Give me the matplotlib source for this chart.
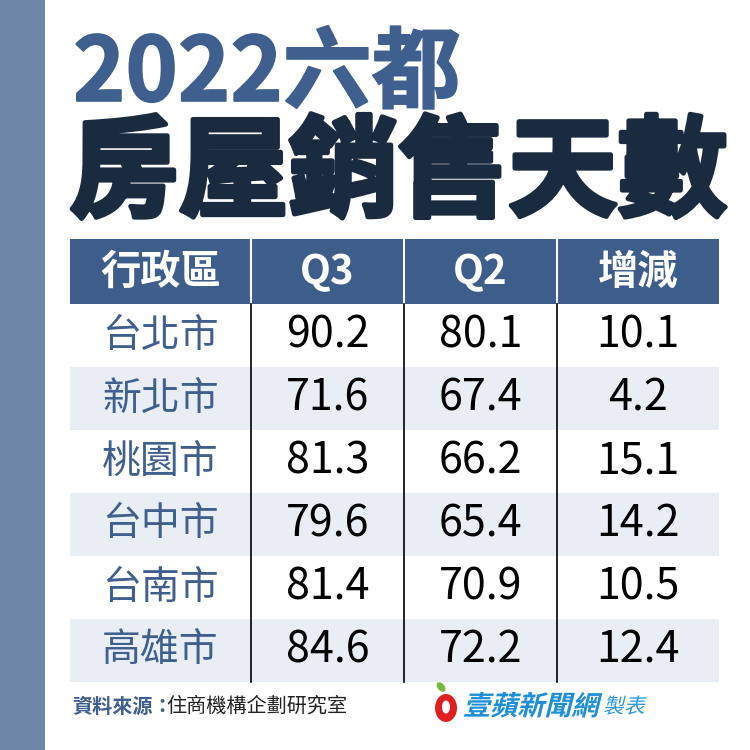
import matplotlib
matplotlib.use("Agg")
import matplotlib.pyplot as plt
from matplotlib.patches import Rectangle, Ellipse
from matplotlib.transforms import Affine2D
import matplotlib.patheffects as pe

plt.rcParams['font.family'] = ['Noto Sans CJK TC', 'DejaVu Sans']

title1 = "2022六都"
title2 = "房屋銷售天數"
headers = ["行政區", "Q3", "Q2", "增減"]
cities = ["台北市", "新北市", "桃園市", "台中市", "台南市", "高雄市"]
q3 = ["90.2", "71.6", "81.3", "79.6", "81.4", "84.6"]
q2 = ["80.1", "67.4", "66.2", "65.4", "70.9", "72.2"]
diff = ["10.1", "4.2", "15.1", "14.2", "10.5", "12.4"]
source_label = "資料來源："
source_text = "住商機構企劃研究室"
brand = "壹蘋新聞網"
brand_suffix = "製表"

BAR = "#6e86a8"
BLUE = "#3f5f8f"
HEAD = "#3d5d8b"
DARK = "#1a2a3f"
LIGHT = "#e9eef5"


class Shear(pe.AbstractPathEffect):
    """Slant text (faux italic) about its own origin."""
    def __init__(self, deg=14):
        super().__init__()
        self.deg = deg

    def draw_path(self, renderer, gc, tpath, affine, rgbFace=None):
        x0, y0 = affine.transform((0, 0))
        t = affine + Affine2D().translate(-x0, -y0).skew_deg(self.deg, 0).translate(x0, y0)
        renderer.draw_path(gc, tpath, t, rgbFace)


fig = plt.figure(figsize=(7.5, 7.5), dpi=100)
ax = fig.add_axes([0, 0, 1, 1])
ax.set_xlim(0, 750)
ax.set_ylim(750, 0)
ax.axis('off')

# left bar
ax.add_patch(Rectangle((0, 0), 45, 750, color=BAR, lw=0))

# titles
ax.text(73, 75, title1, fontsize=64, fontweight='bold', color=BLUE,
        ha='left', va='center',
        path_effects=[pe.withStroke(linewidth=1.2, foreground=BLUE)])
ax.text(69, 176, title2, fontsize=79, fontweight='black', color=DARK,
        ha='left', va='center',
        path_effects=[pe.withStroke(linewidth=3.5, foreground=DARK)])

cols = [70, 251, 404, 557, 719]
head_top, head_bot = 239, 304
row_h = 63

# header
ax.add_patch(Rectangle((cols[0], head_top), cols[-1] - cols[0], head_bot - head_top,
                       color=HEAD, lw=0))
for i, h in enumerate(headers):
    cx = (cols[i] + cols[i + 1]) / 2
    ax.text(cx, (head_top + head_bot) / 2 + 1, h, fontsize=29, fontweight='bold',
            color='white', ha='center', va='center')
for x in cols[1:-1]:
    ax.plot([x, x], [head_top, head_bot], color='white', lw=1.5)

# rows
for r in range(len(cities)):
    top = head_bot + r * row_h
    if r % 2 == 1:
        ax.add_patch(Rectangle((cols[0], top), cols[-1] - cols[0], row_h,
                               color=LIGHT, lw=0))
    cy = top + row_h / 2
    ax.text((cols[0] + cols[1]) / 2, cy, cities[r], fontsize=28, color=BLUE,
            fontweight='medium', ha='center', va='center')
    for j, vals in enumerate([q3, q2, diff]):
        ax.text((cols[j + 1] + cols[j + 2]) / 2, cy, vals[r], fontsize=31,
                color='black', fontweight='light', ha='center', va='center')

table_bot = head_bot + len(cities) * row_h
for x in cols[1:-1]:
    ax.plot([x, x], [head_bot, table_bot], color='black', lw=1.2)

# footer
ax.text(72, 706, source_label, fontsize=14.5, fontweight='bold', color=BLUE,
        ha='left', va='center')
ax.text(166, 706, source_text, fontsize=14.5, color='#222222',
        ha='left', va='center')

# logo
ax.add_patch(Ellipse((446, 708), 22, 28, color='#e02020', lw=0))
ax.add_patch(Ellipse((446, 707), 8, 13, color='white', lw=0))
ax.add_patch(Ellipse((441, 687), 7, 11, angle=-40, color='#7ab83a', lw=0))
ax.text(463, 707, brand, fontsize=19.5, fontweight='black', color='#1e8fd8',
        ha='left', va='center', path_effects=[Shear(14)])
ax.text(603, 707, brand_suffix, fontsize=15, color='#2a9ae0',
        ha='left', va='center', path_effects=[Shear(14)])

fig.savefig("out.png", dpi=100, facecolor='white')
